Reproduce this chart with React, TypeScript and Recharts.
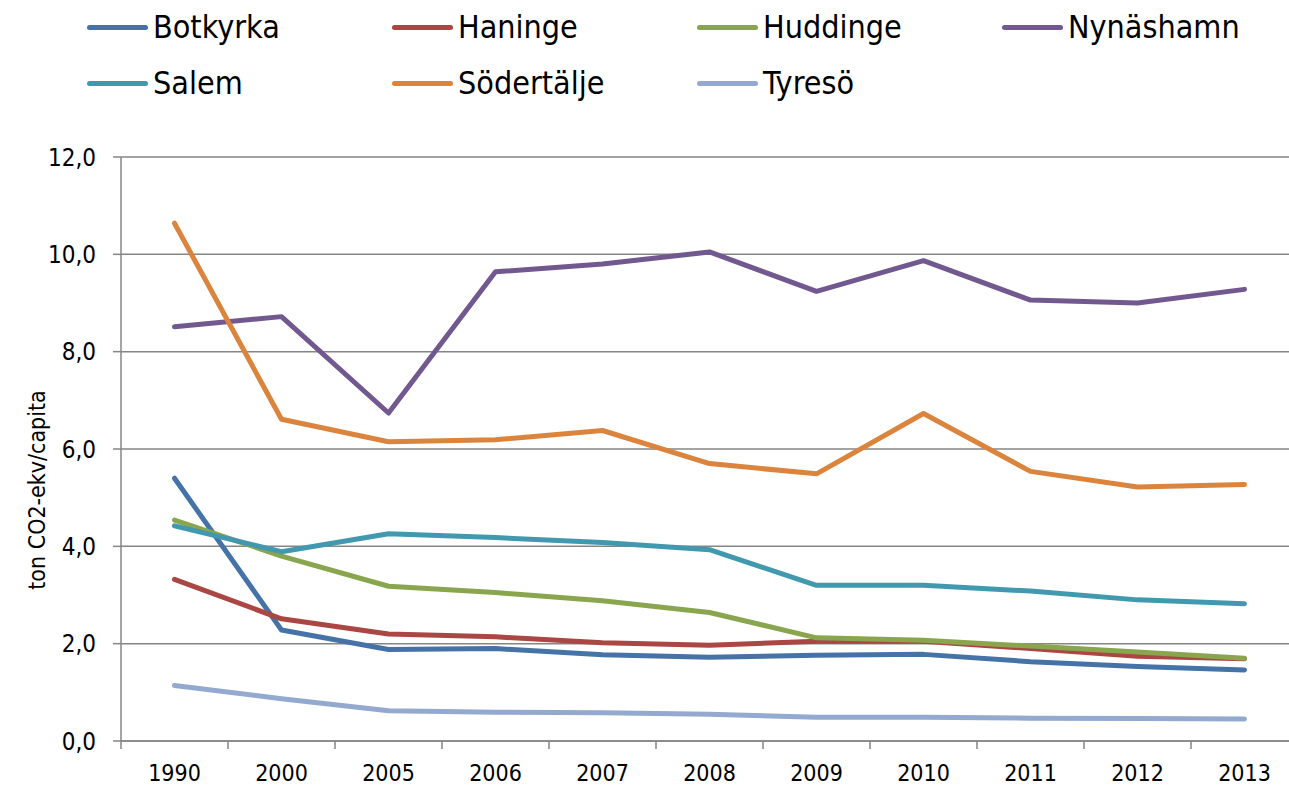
import { LineChart, Line, XAxis, YAxis, CartesianGrid, Label } from 'recharts'

const years = ['1990', '2000', '2005', '2006', '2007', '2008', '2009', '2010', '2011', '2012', '2013']

const botkyrka = [5.4, 2.28, 1.88, 1.9, 1.77, 1.72, 1.76, 1.78, 1.63, 1.53, 1.46]
const haninge = [3.32, 2.51, 2.2, 2.14, 2.02, 1.97, 2.05, 2.05, 1.9, 1.74, 1.69]
const huddinge = [4.54, 3.8, 3.18, 3.05, 2.88, 2.64, 2.12, 2.07, 1.95, 1.83, 1.7]
const nynashamn = [8.51, 8.72, 6.74, 9.64, 9.8, 10.05, 9.24, 9.87, 9.06, 9.0, 9.28]
const salem = [4.42, 3.89, 4.26, 4.18, 4.08, 3.93, 3.2, 3.2, 3.08, 2.9, 2.82]
const sodertalje = [10.64, 6.61, 6.15, 6.19, 6.38, 5.7, 5.49, 6.73, 5.54, 5.22, 5.27]
const tyreso = [1.14, 0.87, 0.62, 0.59, 0.58, 0.55, 0.49, 0.49, 0.47, 0.46, 0.45]

const yTicks = [0, 2, 4, 6, 8, 10, 12]

const series = [
  { key: 'Botkyrka', values: botkyrka, color: '#4572A7' },
  { key: 'Haninge', values: haninge, color: '#AA4643' },
  { key: 'Huddinge', values: huddinge, color: '#89A54E' },
  { key: 'Nynäshamn', values: nynashamn, color: '#71588F' },
  { key: 'Salem', values: salem, color: '#4198AF' },
  { key: 'Södertälje', values: sodertalje, color: '#DB843D' },
  { key: 'Tyresö', values: tyreso, color: '#93A9CF' },
]

const data = years.map((year, i) => {
  const row: Record<string, string | number> = { year }
  series.forEach((s) => (row[s.key] = s.values[i]))
  return row
})

const gray = '#868686'
const font = '"Liberation Sans Narrow", "DejaVu Sans Condensed", sans-serif'

const chartW = 1300
const yAxisW = 121
const marginRight = 2
const xTickGap = 24
// category width, used for the tick marks that sit between years
const step = (chartW - yAxisW - marginRight) / years.length

function YearTick(props: any) {
  const { x, y, payload, index } = props
  const axisY = y - xTickGap
  return (
    <g>
      <line x1={x - step / 2} x2={x - step / 2} y1={axisY} y2={axisY + 8} stroke={gray} strokeWidth={1.5} />
      {index === years.length - 1 && (
        <line x1={x + step / 2} x2={x + step / 2} y1={axisY} y2={axisY + 8} stroke={gray} strokeWidth={1.5} />
      )}
      <text x={x} y={y} dy="0.71em" textAnchor="middle" fill="#000" fontSize={23} fontFamily={font}>
        {payload.value}
      </text>
    </g>
  )
}

function ChartLegend() {
  return (
    <div
      style={{
        position: 'absolute',
        left: 87,
        top: -1,
        display: 'grid',
        gridTemplateColumns: 'repeat(4, 305px)',
        gridAutoRows: '56px',
        fontFamily: font,
        fontSize: 32,
        color: '#000',
      }}
    >
      {series.map((s) => (
        <div key={s.key} style={{ display: 'flex', alignItems: 'center' }}>
          <span style={{ width: 61, height: 5, borderRadius: 3, background: s.color, marginRight: 5 }} />
          <span>{s.key}</span>
        </div>
      ))}
    </div>
  )
}

export default function App() {
  return (
    <div
      style={{
        position: 'absolute',
        left: 0,
        top: 0,
        width: 1289,
        height: 787,
        overflow: 'hidden',
        background: '#fff',
      }}
    >
      <ChartLegend />
      <LineChart width={chartW} height={787} data={data} margin={{ top: 157, right: marginRight, left: 0, bottom: 0 }}>
        <CartesianGrid vertical={false} stroke={gray} strokeWidth={1.5} />
        <XAxis
          dataKey="year"
          height={46}
          padding={{ left: step / 2, right: step / 2 }}
          axisLine={{ stroke: gray, strokeWidth: 1.5 }}
          tickLine={false}
          tickSize={0}
          tickMargin={xTickGap}
          tick={<YearTick />}
          interval={0}
        />
        <YAxis
          width={yAxisW}
          domain={[0, 12]}
          ticks={yTicks}
          tickFormatter={(v: number) => v.toFixed(1).replace('.', ',')}
          axisLine={{ stroke: gray, strokeWidth: 1.5 }}
          tickLine={{ stroke: gray, strokeWidth: 1.5 }}
          tickSize={8}
          tickMargin={17}
          tick={{ fill: '#000', fontSize: 24, fontFamily: font }}
        >
          <Label
            content={() => (
              <text
                transform="translate(37,490) rotate(-90)"
                textAnchor="middle"
                dominantBaseline="central"
                fill="#000"
                fontSize={23}
                fontFamily={font}
              >
                ton CO2-ekv/capita
              </text>
            )}
          />
        </YAxis>
        {series.map((s) => (
          <Line
            key={s.key}
            dataKey={s.key}
            stroke={s.color}
            strokeWidth={5}
            strokeLinecap="round"
            strokeLinejoin="round"
            dot={false}
            activeDot={false}
            isAnimationActive={false}
          />
        ))}
      </LineChart>
    </div>
  )
}
